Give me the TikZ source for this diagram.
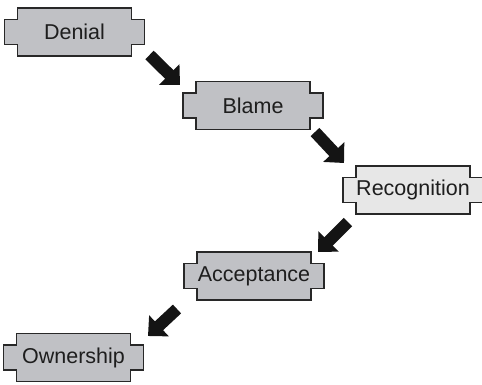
\documentclass[tikz,border=0pt]{standalone}
\usepackage{fontspec}
\setmainfont{Liberation Sans}
\usetikzlibrary{arrows.meta}
\definecolor{boxgray}{RGB}{192,193,197}
\definecolor{boxlight}{RGB}{231,231,231}
\definecolor{edge}{RGB}{40,40,40}
\definecolor{txt}{RGB}{30,30,30}
\tikzset{
  boxline/.style={draw=edge, line width=1.4pt, line join=miter},
  lbl/.style={font=\fontsize{21.5}{25}\selectfont, text=txt, inner sep=0pt},
  bigarrow/.style={line width=12pt, draw=black!92, -{Triangle[length=15pt,width=28pt]}},
}
\newcommand\tabbox[5]{% name, cx, cy, fill, text
  \begin{scope}[shift={(#2,#3)}]
    \filldraw[boxline, fill=#4] (-57,-24) -- (57,-24) -- (57,-12.5) -- (70,-12.5) -- (70,12.5) -- (57,12.5) -- (57,24) -- (-57,24) -- (-57,12.5) -- (-70,12.5) -- (-70,-12.5) -- (-57,-12.5) -- cycle;
    \node[lbl] (#1) at (0,0) {#5};
  \end{scope}}
\begin{document}
\begin{tikzpicture}[x=1pt, y=-1pt]
  \useasboundingbox (0,0) rectangle (482,384);
  \tabbox{denial}{74.5}{32}{boxgray}{Denial}
  \tabbox{blame}{253}{105.5}{boxgray}{Blame}
  \tabbox{recog}{413}{190}{boxlight}{Recognition}
  \tabbox{accept}{254}{276}{boxgray}{Acceptance}
  \tabbox{owner}{73.5}{357.5}{boxgray}{Ownership}
  \coordinate (a1s) at (149.5,55);
  \coordinate (a1e) at (180,85);
  \coordinate (a2s) at (315,132);
  \coordinate (a2e) at (344,163);
  \coordinate (a3s) at (348,222);
  \coordinate (a3e) at (318,252);
  \coordinate (a4s) at (177,309);
  \coordinate (a4e) at (148,336);
  \draw[bigarrow] (a1s) -- (a1e);
  \draw[bigarrow] (a2s) -- (a2e);
  \draw[bigarrow] (a3s) -- (a3e);
  \draw[bigarrow] (a4s) -- (a4e);
\end{tikzpicture}
\end{document}
